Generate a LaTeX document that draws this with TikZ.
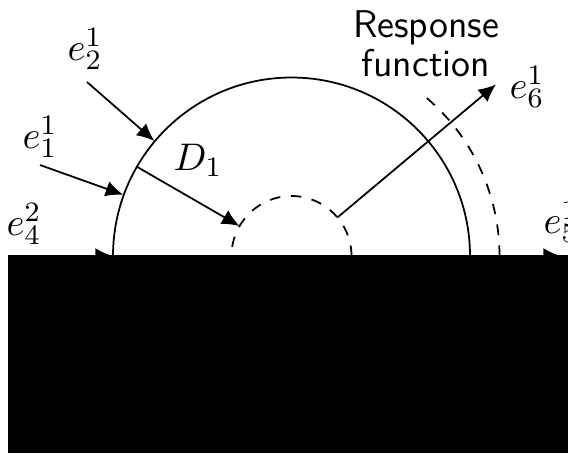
\documentclass[tikz,border=0pt]{standalone}
\usetikzlibrary{calc,arrows.meta}
\begin{document}
\begin{tikzpicture}[x=0.01cm,y=0.01cm,font=\fontsize{11}{11}\selectfont,
  ray/.style={-{Latex[length=5pt,width=4.5pt]},line width=0.5pt},
  lbl/.style={inner sep=0pt}]
\useasboundingbox (0,0) rectangle (568,453);
\coordinate (O) at (291.5,197);
% Rings
\draw[line width=0.5pt] ($(O)+(178.5,0)$) arc[start angle=0,end angle=180,radius=178.5];
\draw[line width=0.5pt,dashed] ($(O)+(60,0)$) arc[start angle=0,end angle=180,radius=60];
\draw[line width=0.5pt,dashed] ($(O)+(208,0)$) arc[start angle=0,end angle=50,radius=208];
% Ray end points
\coordinate (s2) at (87,371);
\coordinate (h2) at ($(O)+(140:179)$);
\coordinate (s1) at (40,288);
\coordinate (h1) at ($(O)+(160:179)$);
\coordinate (d0) at ($(O)+(150:178.5)$);
\coordinate (d1) at ($(O)+(150:60)$);
\coordinate (u0) at ($(O)+(40:60)$);
\coordinate (u1) at ($(O)+(40:267)$);
\coordinate (g0) at (8,197);
\coordinate (gl) at ($(O)+(180:178.5)$);
\coordinate (gr) at ($(O)+(0:178.5)$);
\coordinate (g1) at (561,197);
% Rays
\draw[ray] (s2) -- (h2);
\draw[ray] (s1) -- (h1);
\draw[ray] (d0) -- (d1);
\draw[ray] (u0) -- (u1);
\draw[ray] (g0) -- (gl);
\draw[ray] (gr) -- (g1);
% Ground
\fill[black] (8,198) rectangle (568,0);
% Labels
\node[lbl] (e21) at (85,404) {$e_2^1$};
\node[lbl] (e11) at (40,316) {$e_1^1$};
\node[lbl] (e42) at (24,229) {$e_4^2$};
\node[lbl] (D1) at (198,293) {$D_1$};
\node[lbl] (e61) at (527,366) {$e_6^1$};
\node[lbl] (e51) at (561,231) {$e_5^1$};
\node[align=center,font=\sffamily\fontsize{11}{11}\selectfont] (resp) at (426,409) {Response\\function};
\end{tikzpicture}
\end{document}
